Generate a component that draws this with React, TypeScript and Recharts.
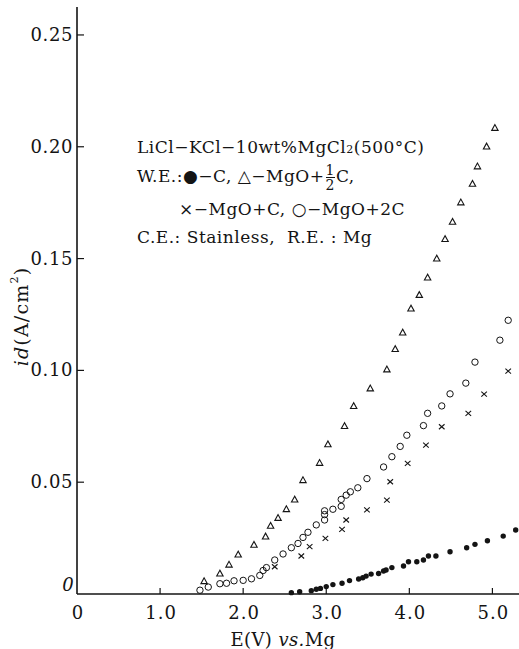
import React from "react";
import { ScatterChart, Scatter, XAxis, YAxis, Label } from "recharts";

const FONT = '"DejaVu Serif", "Liberation Serif", serif';
const INK = "#141414";

// axis ticks
const X_TICKS = [0, 1, 2, 3, 4, 5];
const Y_TICKS = [0, 0.05, 0.1, 0.15, 0.2, 0.25];

// W.E.: ● - C
const carbonE = [2.58, 2.68, 2.82, 2.88, 2.93, 3.0, 3.08, 3.19, 3.28, 3.39, 3.44, 3.48, 3.54, 3.63, 3.69, 3.72, 3.79, 3.93, 3.99, 4.09, 4.17, 4.23, 4.32, 4.49, 4.69, 4.79, 4.94, 5.13, 5.28];
const carbonI = [0.0006, 0.001, 0.0015, 0.0021, 0.0025, 0.0033, 0.0042, 0.0048, 0.006, 0.0067, 0.0073, 0.008, 0.0089, 0.0092, 0.0103, 0.0107, 0.0118, 0.0125, 0.0144, 0.0144, 0.0152, 0.017, 0.017, 0.0189, 0.0207, 0.0222, 0.0238, 0.0259, 0.0286];

// △ - MgO + 1/2 C
const halfCE = [1.53, 1.72, 1.83, 1.94, 2.13, 2.27, 2.33, 2.42, 2.52, 2.62, 2.72, 2.92, 3.02, 3.22, 3.33, 3.53, 3.73, 3.83, 3.92, 4.02, 4.12, 4.22, 4.33, 4.43, 4.52, 4.62, 4.76, 4.82, 4.93, 5.03];
const halfCI = [0.0057, 0.0091, 0.0131, 0.0176, 0.022, 0.0257, 0.0305, 0.034, 0.0379, 0.0422, 0.0509, 0.0586, 0.0669, 0.0751, 0.084, 0.0919, 0.1004, 0.1095, 0.1169, 0.1276, 0.1337, 0.1415, 0.15, 0.1587, 0.1664, 0.1751, 0.1834, 0.1912, 0.2001, 0.2084];

// × - MgO + C
const oneCE = [2.38, 2.7, 2.8, 2.99, 3.19, 3.24, 3.49, 3.73, 3.77, 3.98, 4.2, 4.39, 4.71, 4.9, 5.19];
const oneCI = [0.0122, 0.017, 0.0212, 0.0249, 0.0289, 0.0331, 0.0376, 0.042, 0.0502, 0.0584, 0.0666, 0.0748, 0.0808, 0.0894, 0.0997];

// ○ - MgO + 2C
const twoCE = [1.48, 1.58, 1.72, 1.8, 1.89, 2.0, 2.1, 2.2, 2.24, 2.28, 2.38, 2.48, 2.58, 2.66, 2.72, 2.78, 2.88, 2.98, 2.98, 2.98, 3.08, 3.18, 3.18, 3.24, 3.29, 3.38, 3.49, 3.69, 3.79, 3.89, 3.97, 4.17, 4.22, 4.39, 4.49, 4.68, 4.79, 5.09, 5.19];
const twoCI = [0.0017, 0.0031, 0.0046, 0.0048, 0.0059, 0.0061, 0.0068, 0.0083, 0.0105, 0.0118, 0.0152, 0.0179, 0.0207, 0.0226, 0.0253, 0.0276, 0.0309, 0.0331, 0.0355, 0.0372, 0.0379, 0.0392, 0.0423, 0.0442, 0.0457, 0.0475, 0.0516, 0.0568, 0.0614, 0.066, 0.071, 0.0753, 0.0808, 0.0841, 0.0895, 0.0943, 0.1037, 0.1135, 0.1224];

const toPoints = (e: number[], i: number[]) => e.map((v, k) => ({ e: v, i: i[k] }));

// marker shapes
const Dot = (p: any) => <circle cx={p.cx} cy={p.cy} r={2.7} fill={INK} />;
const Tri = (p: any) => (
  <path
    d={`M${p.cx},${p.cy - 3.4}L${p.cx - 3.2},${p.cy + 2.4}L${p.cx + 3.2},${p.cy + 2.4}Z`}
    fill="none"
    stroke={INK}
    strokeWidth={1.1}
  />
);
const Cross = (p: any) => (
  <path
    d={`M${p.cx - 2.8},${p.cy - 2.5}L${p.cx + 2.8},${p.cy + 2.5}M${p.cx - 2.8},${p.cy + 2.5}L${p.cx + 2.8},${p.cy - 2.5}`}
    stroke={INK}
    strokeWidth={1.1}
  />
);
const Ring = (p: any) => <circle cx={p.cx} cy={p.cy} r={3.2} fill="none" stroke={INK} strokeWidth={1} />;

const XTick = ({ x, y, payload }: any) => (
  <g>
    {payload.value !== 0 && <line x1={x} y1={y} x2={x} y2={y - 6} stroke={INK} strokeWidth={1.2} />}
    <text x={x + 1} y={y + 25} textAnchor="middle" fontFamily={FONT} fontSize={18} fill={INK} letterSpacing={1}>
      {payload.value === 0 ? "0" : payload.value.toFixed(1)}
    </text>
  </g>
);

const YTick = ({ x, y, payload }: any) => {
  if (payload.value === 0) {
    return (
      <text x={x - 9} y={y - 3} textAnchor="middle" fontFamily={FONT} fontStyle="italic" fontSize={18} fill={INK}>
        0
      </text>
    );
  }
  return (
    <g>
      <line x1={x} y1={y} x2={x + 7} y2={y} stroke={INK} strokeWidth={1.2} />
      <text x={x - 4} y={y + 6} textAnchor="end" fontFamily={FONT} fontSize={18} fill={INK} letterSpacing={0.6}>
        {payload.value.toFixed(2)}
      </text>
    </g>
  );
};

const XTitle = ({ viewBox }: any) => (
  <text x={viewBox.x + viewBox.width / 2 - 15} y={viewBox.y + 52} textAnchor="middle" fontFamily={FONT} fontSize={18} fill={INK} letterSpacing={0.4}>
    E(V) <tspan fontStyle="italic">vs.</tspan>Mg
  </text>
);

const YTitle = ({ viewBox }: any) => {
  const cx = 21;
  const cy = viewBox.y + viewBox.height / 2 + 16;
  return (
    <text x={cx} y={cy} transform={`rotate(-90 ${cx} ${cy})`} textAnchor="middle" dominantBaseline="central" fontFamily={FONT} fontSize={19} fill={INK} letterSpacing={1.2}>
      <tspan fontStyle="italic">id</tspan>(A/cm<tspan fontSize={11} dy={-7}>2</tspan>
      <tspan dy={7}>)</tspan>
    </text>
  );
};

const line = (top: number, left: number): React.CSSProperties => ({
  position: "absolute",
  top,
  left,
  height: 30,
  lineHeight: "30px",
  whiteSpace: "nowrap",
});

const Frac = () => (
  <span style={{ display: "inline-flex", flexDirection: "column", verticalAlign: "middle", fontSize: 14, lineHeight: "14px", textAlign: "center", margin: "0 1px" }}>
    <span style={{ borderBottom: `1px solid ${INK}` }}>1</span>
    <span>2</span>
  </span>
);

const Legend = () => (
  <div style={{ position: "absolute", left: 0, top: 0, fontFamily: FONT, fontSize: 17, letterSpacing: 0.5, color: INK }}>
    <div style={line(132, 137)}>
      LiCl−KCl−10wt%MgCl<span style={{ fontSize: 11 }}>2</span>(500°C)
    </div>
    <div style={line(161, 137)}>
      W.E.:●−C, △−MgO+<Frac />C,
    </div>
    <div style={line(194, 179)}>×−MgO+C,&nbsp;○−MgO+2C</div>
    <div style={line(222, 137)}>C.E.: Stainless,&nbsp;&nbsp;R.E.&nbsp;: Mg</div>
  </div>
);

export default function App() {
  return (
    <div style={{ position: "absolute", left: 0, top: 0, width: 519, height: 649, background: "#fff" }}>
      <ScatterChart width={519} height={649} margin={{ top: 7, right: 0, bottom: 0, left: 1 }}>
        <XAxis
          type="number"
          dataKey="e"
          domain={[0, 5.32]}
          ticks={X_TICKS}
          height={55}
          tickSize={0}
          tickMargin={0}
          tickLine={false}
          axisLine={{ stroke: INK, strokeWidth: 1.6 }}
          tick={<XTick />}
          interval={0}
        >
          <Label content={<XTitle />} />
        </XAxis>
        <XAxis xAxisId="top" orientation="top" type="number" dataKey="e" domain={[0, 5.32]} height={0} tick={false} tickLine={false} axisLine={{ stroke: INK, strokeWidth: 2 }} />
        <YAxis
          type="number"
          dataKey="i"
          domain={[0, 0.2625]}
          ticks={Y_TICKS}
          width={76}
          tickSize={0}
          tickMargin={0}
          tickLine={false}
          axisLine={{ stroke: INK, strokeWidth: 1.6 }}
          tick={<YTick />}
          interval={0}
        >
          <Label content={<YTitle />} />
        </YAxis>
        <Scatter data={toPoints(carbonE, carbonI)} shape={<Dot />} isAnimationActive={false} />
        <Scatter data={toPoints(halfCE, halfCI)} shape={<Tri />} isAnimationActive={false} />
        <Scatter data={toPoints(oneCE, oneCI)} shape={<Cross />} isAnimationActive={false} />
        <Scatter data={toPoints(twoCE, twoCI)} shape={<Ring />} isAnimationActive={false} />
      </ScatterChart>
      <Legend />
    </div>
  );
}
